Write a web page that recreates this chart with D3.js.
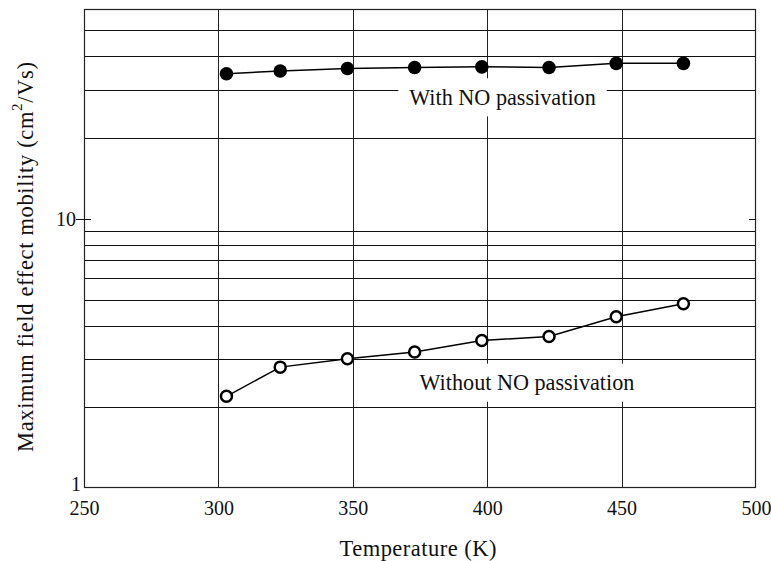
<!DOCTYPE html>
<html><head><meta charset="utf-8">
<script src="https://cdn.jsdelivr.net/npm/d3@7"></script>
<style>body{margin:0;background:#fff}</style>
</head><body>
<svg id="c" width="771" height="561"></svg>
<script>
const temperatures = [303, 323, 348, 373, 398, 423, 448, 473];
const withNO = [34.5, 35.3, 36.1, 36.4, 36.6, 36.4, 37.7, 37.7];
const withoutNO = [2.19, 2.81, 3.02, 3.20, 3.53, 3.65, 4.32, 4.83];
const xTicks = [250, 300, 350, 400, 450, 500];
const yTickLabels = [1, 10];
const hGrid = [2, 3, 4, 5, 6, 7, 8, 9, 20, 30, 40, 50];
const vGrid = [300, 350, 400, 450];
const annotations = ["With NO passivation", "Without NO passivation"];
const annotX = [405.7, 414.8];
const annotY = [28.2, 2.46];

const svg = d3.select("#c");
const L = 84, R = 756, T = 9, B = 488;
const x = d3.scaleLinear().domain([250, 500]).range([L, R]);
const y = d3.scaleLog().domain([1, 60]).range([B, T]);
const font = "'Liberation Serif','Times New Roman',serif";

// gridlines
svg.append("g").selectAll("line").data(hGrid).join("line")
  .attr("x1", L).attr("x2", R).attr("y1", d => Math.round(y(d)) + 0.5).attr("y2", d => Math.round(y(d)) + 0.5)
  .attr("stroke", "#111").attr("stroke-width", 1);
svg.append("g").selectAll("line").data(vGrid).join("line")
  .attr("y1", T).attr("y2", B).attr("x1", d => Math.round(x(d)) + 0.5).attr("x2", d => Math.round(x(d)) + 0.5)
  .attr("stroke", "#222").attr("stroke-width", 1);

// annotation boxes + text
const ag = svg.append("g");
annotations.forEach((t, i) => {
  const cx = x(annotX[i]), cy = y(annotY[i]);
  const rect = ag.append("rect").attr("fill", "#fff");
  const txt = ag.append("text").attr("x", cx).attr("y", cy).attr("text-anchor", "middle")
    .attr("dominant-baseline", "central").attr("font-family", font).attr("font-size", 22.2)
    .attr("fill", "#111").text(t);
  const bb = txt.node().getBBox();
  rect.attr("x", bb.x - 11).attr("y", cy - 19).attr("width", bb.width + 22).attr("height", 38);
});

// frame
svg.append("rect").attr("x", L + 0.5).attr("y", T + 0.5).attr("width", R - L - 1).attr("height", B - T - 1)
  .attr("fill", "none").attr("stroke", "#222").attr("stroke-width", 1.2);

// axes
const xAxis = d3.axisBottom(x).tickValues(xTicks).tickSize(0).tickPadding(10).tickFormat(d3.format("d"));
const gx = svg.append("g").attr("transform", `translate(0,${B})`).call(xAxis);
gx.select(".domain").remove();
gx.selectAll("text").attr("font-family", font).attr("font-size", 20).attr("fill", "#111").attr("dy", "0.85em");

const yAxis = d3.axisLeft(y).tickValues(yTickLabels).tickSize(0).tickPadding(8).tickFormat(d3.format("d"));
const gy = svg.append("g").attr("transform", `translate(${L},0)`).call(yAxis);
gy.select(".domain").remove();
gy.selectAll("text").attr("font-family", font).attr("font-size", 20).attr("fill", "#111");
gy.selectAll(".tick").filter(d => d === 1).select("text").attr("x", -3).attr("dy", "0.1em");
// small ticks at 10
[L, R].forEach((px, i) => {
  svg.append("line").attr("x1", px).attr("x2", i === 0 ? px + 7 : px - 7)
    .attr("y1", Math.round(y(10)) + 0.5).attr("y2", Math.round(y(10)) + 0.5).attr("stroke", "#111");
});
svg.append("line").attr("x1", L - 8).attr("x2", L).attr("y1", Math.round(y(10)) + 0.5).attr("y2", Math.round(y(10)) + 0.5).attr("stroke", "#111");

// axis titles
svg.append("text").attr("x", 418).attr("y", 548).attr("text-anchor", "middle").attr("dominant-baseline", "central")
  .attr("font-family", font).attr("font-size", 22.5).attr("fill", "#111")
  .attr("textLength", 157).attr("lengthAdjust", "spacing").text("Temperature (K)");
const yl = svg.append("text").attr("transform", `translate(25,257) rotate(-90)`).attr("text-anchor", "middle")
  .attr("dominant-baseline", "central").attr("font-family", font).attr("font-size", 22.5).attr("fill", "#111")
  .attr("textLength", 390).attr("lengthAdjust", "spacing");
yl.append("tspan").text("Maximum field effect mobility (cm");
yl.append("tspan").attr("baseline-shift", "super").attr("font-size", 15).text("2");
yl.append("tspan").text("/Vs)");

// series
const line = d3.line().x((d, i) => x(temperatures[i])).y(d => y(d));
svg.append("path").datum(withNO).attr("d", line).attr("fill", "none").attr("stroke", "#000").attr("stroke-width", 1.5);
svg.append("path").datum(withoutNO).attr("d", line).attr("fill", "none").attr("stroke", "#000").attr("stroke-width", 1.5);
svg.append("g").selectAll("circle").data(withNO).join("circle")
  .attr("cx", (d, i) => x(temperatures[i])).attr("cy", d => y(d)).attr("r", 6.8).attr("fill", "#000");
svg.append("g").selectAll("circle").data(withoutNO).join("circle")
  .attr("cx", (d, i) => x(temperatures[i])).attr("cy", d => y(d)).attr("r", 5.5)
  .attr("fill", "#fff").attr("stroke", "#000").attr("stroke-width", 2.5);
</script>
</body></html>
